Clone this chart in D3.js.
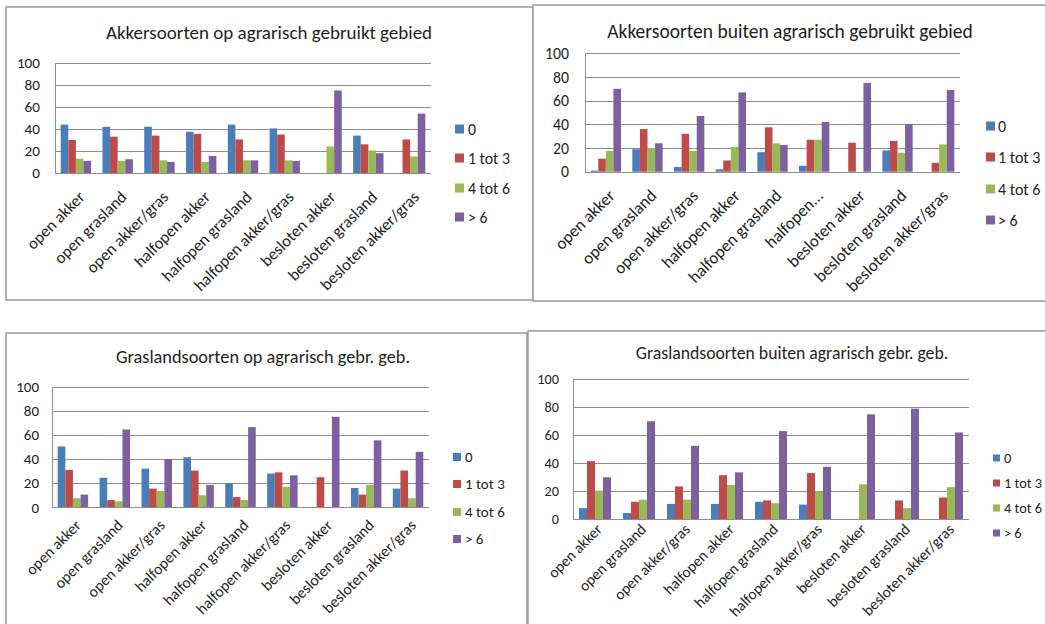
<!DOCTYPE html>
<html>
<head>
<meta charset="utf-8">
<script src="https://cdn.jsdelivr.net/npm/d3@7"></script>
<style>
  html, body { margin: 0; padding: 0; background: #fff; }
  svg { display: block; }
  text { font-family: Carlito, Lato, "Open Sans", sans-serif; fill: #1e1e1e; }
</style>
</head>
<body>
<svg id="chart" width="1045" height="624"></svg>
<script>
// Landscape types along the x axis
const categories = ["open akker", "open grasland", "open akker/gras", "halfopen akker",
  "halfopen grasland", "halfopen akker/gras", "besloten akker", "besloten grasland", "besloten akker/gras"];
// same categories, with the long one cut short as in the second chart
const categoriesShort = ["open akker", "open grasland", "open akker/gras", "halfopen akker",
  "halfopen grasland", "halfopen...", "besloten akker", "besloten grasland", "besloten akker/gras"];
// Classes (number of species)
const seriesNames = ["0", "1 tot 3", "4 tot 6", "> 6"];
const seriesColors = ["#4a7ebb", "#be4b48", "#98b954", "#7d60a0"];
const yTicks = [0, 20, 40, 60, 80, 100];

// Akkersoorten op agrarisch gebruikt gebied (%)
const akkerOp0   = [44, 42, 42, 37.5, 44, 40.5, 0, 34, 0];
const akkerOp13  = [30, 33, 34, 35.5, 30.5, 35, 0, 26, 30.5];
const akkerOp46  = [13, 11, 11.5, 10, 11.5, 11.5, 24, 20.5, 15];
const akkerOp6   = [11, 12.5, 10, 15.5, 11.5, 11, 75, 18, 54];

// Akkersoorten buiten agrarisch gebruikt gebied (%)
const akkerBuiten0  = [1, 19, 4, 2, 16.5, 5, 0, 18, 0];
const akkerBuiten13 = [11, 36, 32, 9.5, 37.5, 27, 24.5, 26, 7.5];
const akkerBuiten46 = [17.5, 20, 17.5, 21, 24, 27, 0, 16, 23];
const akkerBuiten6  = [70, 24, 47, 67, 22.5, 42, 75, 40, 69];

// Graslandsoorten op agrarisch gebr. geb. (%)
const grasOp0  = [50.5, 24.5, 32, 41.5, 20, 28, 0, 16, 15.5];
const grasOp13 = [31, 6, 15.5, 30.5, 8.5, 29, 25, 10.5, 30.5];
const grasOp46 = [7.5, 5, 13.5, 10, 6, 17, 0, 18.5, 7.5];
const grasOp6  = [10.5, 64.5, 40, 18.5, 66.5, 26.5, 75, 55.5, 46];

// Graslandsoorten buiten agrarisch gebr. geb. (%)
const grasBuiten0  = [8, 4.5, 11, 11, 12.5, 10.5, 0, 0, 0];
const grasBuiten13 = [41.5, 12.5, 23.5, 31.5, 13.5, 33, 0, 13.5, 15.5];
const grasBuiten46 = [20.5, 14, 14, 24.5, 11.5, 20, 25, 8, 23];
const grasBuiten6  = [30, 70, 52.5, 33.5, 63, 37.5, 75, 79, 62];

const svg = d3.select("#chart");

function drawPanel(p) {
  const g = svg.append("g");

  // chart frame
  g.append("rect")
    .attr("x", p.frame[0]).attr("y", p.frame[1])
    .attr("width", p.frame[2]).attr("height", p.frame[3])
    .attr("fill", "#fff").attr("stroke", "#9a9a9a").attr("stroke-width", 1.5);

  // title
  g.append("text")
    .attr("x", p.titleX).attr("y", p.titleY)
    .attr("text-anchor", "middle")
    .style("font-size", p.titleSize + "px")
    .text(p.title);

  const x0 = d3.scaleBand().domain(d3.range(p.labels.length))
    .range([p.left, p.right]).paddingInner(0).paddingOuter(0);
  // 150% gap width: four bars share 4/5.5 of each band
  const inner = x0.bandwidth() * 4 / 5.5;
  const x1 = d3.scaleBand().domain(d3.range(seriesNames.length)).range([0, inner]);
  const y = d3.scaleLinear().domain([0, 100]).range([p.bottom, p.top]);

  // gridlines
  g.append("g").selectAll("line").data(yTicks.filter(t => t > 0)).join("line")
    .attr("x1", p.left).attr("x2", p.right)
    .attr("y1", d => Math.round(y(d)) + 0.5).attr("y2", d => Math.round(y(d)) + 0.5)
    .attr("stroke", "#8e8e8e").attr("stroke-width", 1);

  // y axis
  const yAxis = d3.axisLeft(y).tickValues(yTicks).tickSize(0).tickPadding(p.yPad);
  const ya = g.append("g").attr("transform", `translate(${p.left},0)`).call(yAxis);
  ya.select(".domain").attr("stroke", "#8e8e8e");
  ya.selectAll("text").style("font-size", p.tickSize + "px").attr("fill", "#1e1e1e")
    .style("font-family", null);

  // bars
  p.series.forEach((vals, si) => {
    g.append("g").selectAll("rect").data(vals).join("rect")
      .attr("x", (d, i) => x0(i) + (x0.bandwidth() - inner) / 2 + x1(si))
      .attr("width", x1.bandwidth())
      .attr("y", d => y(d))
      .attr("height", d => y(0) - y(d))
      .attr("fill", seriesColors[si]);
  });

  // x axis line
  g.append("line")
    .attr("x1", p.left).attr("x2", p.right)
    .attr("y1", Math.round(y(0)) + 0.5).attr("y2", Math.round(y(0)) + 0.5)
    .attr("stroke", "#8e8e8e");

  // rotated category labels
  g.append("g").selectAll("text").data(p.labels).join("text")
    .attr("text-anchor", "end")
    .attr("transform", (d, i) =>
      `translate(${x0(i) + x0.bandwidth() / 2 + p.labDx},${y(0) + p.labDy}) rotate(-45)`)
    .style("font-size", p.catSize + "px")
    .text(d => d);

  // legend
  const lg = g.append("g").selectAll("g").data(seriesNames).join("g")
    .attr("transform", (d, i) => `translate(${p.legX},${p.legY[i]})`);
  lg.append("rect")
    .attr("x", 0).attr("y", -p.sw / 2)
    .attr("width", p.sw).attr("height", p.sw)
    .attr("fill", (d, i) => seriesColors[i]);
  lg.append("text")
    .attr("x", p.legText).attr("y", 0).attr("dy", "0.35em")
    .style("font-size", p.legSize + "px")
    .text(d => d);
}

drawPanel({
  title: "Akkersoorten op agrarisch gebruikt gebied",
  frame: [6, 7, 527, 293], titleX: 269, titleY: 39, titleSize: 19,
  left: 55, right: 431, top: 63, bottom: 173, yPad: 15, tickSize: 15.2,
  labels: categories, series: [akkerOp0, akkerOp13, akkerOp46, akkerOp6],
  labDx: 10, labDy: 25, catSize: 16.5,
  legX: 455, legText: 13, legY: [129, 158, 188, 217], sw: 9, legSize: 15.8
});

drawPanel({
  title: "Akkersoorten buiten agrarisch gebruikt gebied",
  frame: [533, 5, 530, 296], titleX: 790, titleY: 38, titleSize: 19.5,
  left: 585, right: 960, top: 53.3, bottom: 171.7, yPad: 16, tickSize: 15.8,
  labels: categoriesShort, series: [akkerBuiten0, akkerBuiten13, akkerBuiten46, akkerBuiten6],
  labDx: 10, labDy: 25, catSize: 17,
  legX: 986, legText: 12, legY: [126, 157, 189, 220], sw: 9, legSize: 16
});

drawPanel({
  title: "Graslandsoorten op agrarisch gebr. geb.",
  frame: [6, 333, 521, 300], titleX: 263, titleY: 363, titleSize: 18.3,
  left: 52, right: 429, top: 386.7, bottom: 507.3, yPad: 13, tickSize: 15,
  labels: categories, series: [grasOp0, grasOp13, grasOp46, grasOp6],
  labDx: 9, labDy: 19, catSize: 15.6,
  legX: 453, legText: 12, legY: [457, 484, 512, 539], sw: 8, legSize: 15
});

drawPanel({
  title: "Graslandsoorten buiten agrarisch gebr. geb.",
  frame: [528, 331, 530, 300], titleX: 792, titleY: 359, titleSize: 17.7,
  left: 573, right: 969, top: 379.3, bottom: 519.3, yPad: 14, tickSize: 14.3,
  labels: categories, series: [grasBuiten0, grasBuiten13, grasBuiten46, grasBuiten6],
  labDx: 8, labDy: 11, catSize: 15.3,
  legX: 993, legText: 11, legY: [458, 483, 508, 533], sw: 7, legSize: 14.3
});
</script>
</body>
</html>
